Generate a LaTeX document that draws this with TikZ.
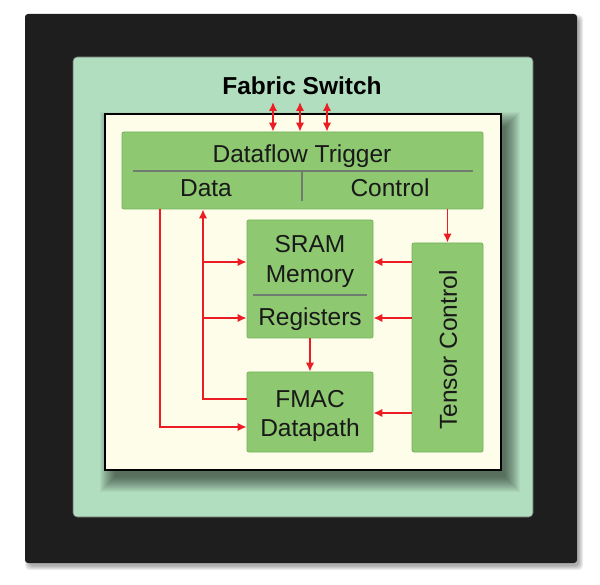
\documentclass[tikz,border=0pt]{standalone}
\usepackage{fontspec}
\setmainfont{Liberation Sans}
\usetikzlibrary{arrows.meta,calc}
\definecolor{frameblack}{HTML}{1E1E1E}
\definecolor{mint}{HTML}{B2DEC0}
\definecolor{cream}{HTML}{FDFDE9}
\definecolor{boxgreen}{HTML}{8EC870}
\definecolor{boxedge}{HTML}{74B25A}
\definecolor{divgray}{HTML}{6F7C6F}
\definecolor{wirered}{HTML}{EC1C24}
\tikzset{
  gbox/.style={draw=boxedge, fill=boxgreen, line width=0.8pt, rounded corners=2pt, inner sep=0pt},
  lbl/.style={font=\fontsize{24.5}{28}\selectfont, text=black!90, inner sep=0pt, anchor=base},
  divline/.style={draw=divgray, line width=1.6pt},
  wire/.style={draw=wirered, line width=1.8pt},
  warr/.style={wire, -{Latex[length=9pt,width=8.5pt]}},
  wboth/.style={wire, {Latex[length=9pt,width=8.5pt]}-{Latex[length=9pt,width=8.5pt]}},
}
\begin{document}
\begin{tikzpicture}[x=1pt,y=-1pt]
\useasboundingbox (0,0) rectangle (600,585);
\fill[white] (0,0) rectangle (600,585);
% outer frame shadow
\foreach \r in {-1,...,3}
  \fill[black, opacity=0.07, rounded corners=4pt] ({28-\r},{18-\r}) rectangle ({580+\r},{567+\r});
% outer frames
\path[fill=frameblack, rounded corners=3pt] (25,14) rectangle (577,563);
\path[fill=mint, draw=black!60, line width=0.6pt, rounded corners=4pt] (73,57) rectangle (533,517);
% cream panel shadow
\foreach \r in {-3,...,12}
  \fill[black, opacity=0.04] ({112-\r},{124-\r}) rectangle ({508+\r},{480+\r});
\path[fill=cream, draw=black, line width=2pt] (105,114) rectangle (501,470);
\node[font=\bfseries\fontsize{24.5}{28}\selectfont, inner sep=0pt, anchor=base] (fs) at (302,95) {Fabric Switch};

% blocks
\node[gbox, minimum width=361pt, minimum height=77pt] (df) at (302.5,170.5) {};
\node[gbox, minimum width=126pt, minimum height=118pt] (sram) at (310,279) {};
\node[gbox, minimum width=126pt, minimum height=80pt] (fmac) at (310,412) {};
\node[gbox, minimum width=71pt, minimum height=209pt] (tc) at (447.5,347.5) {};

% dividers
\draw[divline] (133,171) coordinate (dva) -- (473,171) coordinate (dvb);
\draw[divline] (302,171) coordinate (dvc) -- (302,201) coordinate (dvd);
\draw[divline] (253,295) coordinate (dve) -- (367,295) coordinate (dvf);

% labels
\node[lbl] (tDF) at (302,163) {Dataflow Trigger};
\node[lbl] (tData) at (206,197) {Data};
\node[lbl] (tCtl) at (390,197) {Control};
\node[lbl] (tSRAM) at (310,253) {SRAM};
\node[lbl] (tMem) at (310,283) {Memory};
\node[lbl] (tReg) at (310,326) {Registers};
\node[lbl] (tFMAC) at (310,407) {FMAC};
\node[lbl] (tDP) at (310,436) {Datapath};
\node[lbl, anchor=center, rotate=90] (tTC) at (448,350) {Tensor Control};

% fabric switch links
\coordinate (f1) at (273,102);
\coordinate (f2) at (300,102);
\coordinate (f3) at (327,102);
\draw[wboth] (f1) -- (f1 |- df.north);
\draw[wboth] (f2) -- (f2 |- df.north);
\draw[wboth] (f3) -- (f3 |- df.north);

% data paths
\coordinate (xl) at (160,0);
\coordinate (xr) at (203,0);
\coordinate (yfa) at (0,427);
\coordinate (yfb) at (0,399);
\coordinate (ysa) at (0,262);
\coordinate (ysb) at (0,318);
\coordinate (yfc) at (0,413);
\draw[warr] (xl |- df.south) |- (fmac.west |- yfa);
\draw[warr] (fmac.west |- yfb) -| (xr |- df.south);
\draw[warr] (xr |- ysa) -- (sram.west |- ysa);
\draw[warr] (xr |- ysb) -- (sram.west |- ysb);

% control paths
\draw[warr] (tc.north |- df.south) -- (tc.north);
\draw[warr] (tc.west |- ysa) -- (sram.east |- ysa);
\draw[warr] (tc.west |- ysb) -- (sram.east |- ysb);
\draw[warr] (tc.west |- yfc) -- (fmac.east |- yfc);
\draw[warr] (sram.south) -- (fmac.north);
\end{tikzpicture}
\end{document}
